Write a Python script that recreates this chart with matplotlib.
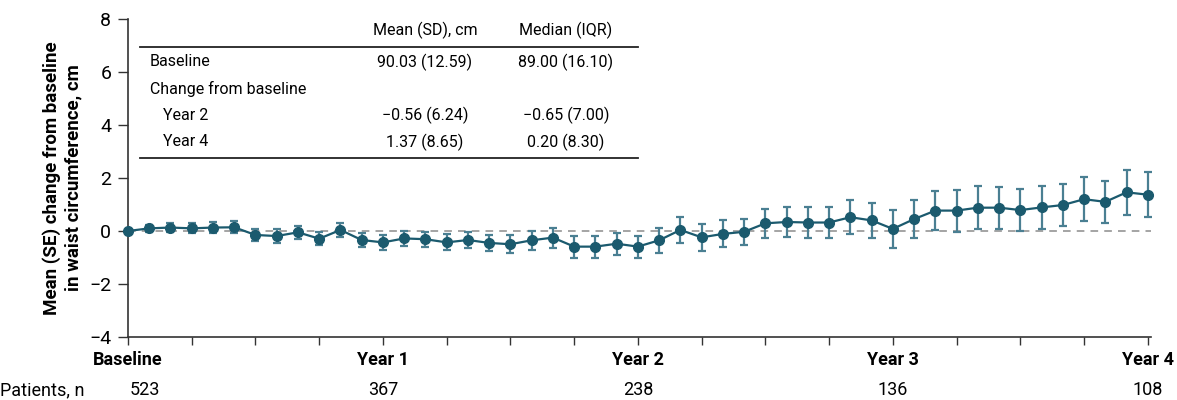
import matplotlib
matplotlib.use("Agg")
import matplotlib.pyplot as plt
from matplotlib.lines import Line2D
from matplotlib.transforms import blended_transform_factory

# ---- data ----
months = list(range(0, 49))
mean_change = [0.00, 0.10, 0.13, 0.10, 0.13, 0.14, -0.15, -0.19, -0.05, -0.29,
               0.04, -0.34, -0.43, -0.28, -0.31, -0.43, -0.34, -0.45, -0.50, -0.35,
               -0.25, -0.59, -0.59, -0.48, -0.59, -0.35, 0.04, -0.24, -0.11, -0.03,
               0.29, 0.34, 0.32, 0.32, 0.52, 0.40, 0.08, 0.45, 0.77, 0.77,
               0.88, 0.88, 0.79, 0.89, 0.98, 1.20, 1.10, 1.46, 1.37]
se_change = [0.00, 0.14, 0.17, 0.19, 0.20, 0.23, 0.24, 0.25, 0.24, 0.24,
             0.26, 0.25, 0.27, 0.28, 0.28, 0.30, 0.31, 0.31, 0.34, 0.35,
             0.38, 0.41, 0.41, 0.42, 0.41, 0.47, 0.48, 0.50, 0.51, 0.49,
             0.54, 0.55, 0.57, 0.60, 0.65, 0.66, 0.72, 0.73, 0.75, 0.79,
             0.81, 0.79, 0.79, 0.81, 0.80, 0.82, 0.80, 0.84, 0.84]
year_ticks = [0, 12, 24, 36, 48]
year_labels = ["Baseline", "Year 1", "Year 2", "Year 3", "Year 4"]
patients_n = ["523", "367", "238", "136", "108"]
y_ticks = [-4, -2, 0, 2, 4, 6, 8]

table_header = ["Mean (SD), cm", "Median (IQR)"]
table_rows = ["Baseline", "Change from baseline", "Year 2", "Year 4"]
table_indent = [False, False, True, True]
table_mean = ["90.03 (12.59)", "", "\u22120.56 (6.24)", "1.37 (8.65)"]
table_median = ["89.00 (16.10)", "", "\u22120.65 (7.00)", "0.20 (8.30)"]

# ---- style ----
W, H = 1177, 400
main_font = ["Roboto", "DejaVu Sans"]
dark = "#1b5a6e"
err_col = "#4a7f92"

plt.rcParams["font.family"] = main_font
fig = plt.figure(figsize=(W / 100, H / 100), dpi=100)
ax = fig.add_axes([128 / W, 1 - 337 / H, (1151 - 128) / W, (337 - 19) / H])

ax.axhline(0, color="#8c8c8c", lw=1.1, ls=(0, (5, 4)), zorder=1)
ax.errorbar(months[1:], mean_change[1:], yerr=se_change[1:], fmt="none",
            ecolor=err_col, elinewidth=1.6, capsize=3, capthick=1.6, zorder=2)
ax.plot(months, mean_change, color=dark, lw=1.6, marker="o", ms=7,
        mec=dark, mfc=dark, zorder=3, clip_on=False)

ax.set_xlim(0, 48.15)
ax.set_ylim(-4, 8)
ax.set_yticks(y_ticks)
ax.set_yticklabels([str(v).replace("-", "\u2212") for v in y_ticks], fontsize=14)
ax.set_xticks(list(range(0, 49, 3)))
ax.set_xticklabels([])
ax.tick_params(axis="x", length=6, width=1, color="#333333")
ax.tick_params(axis="y", length=7, width=1, color="#333333", pad=5)
for s in ["top", "right"]:
    ax.spines[s].set_visible(False)
for s in ["left", "bottom"]:
    ax.spines[s].set_color("#333333")
    ax.spines[s].set_linewidth(1.2)

ax.set_ylabel("Mean (SE) change from baseline\nin waist circumference, cm",
              fontsize=13.5, fontweight="bold", labelpad=5, linespacing=1.2)

tr = blended_transform_factory(ax.transData, ax.transAxes)
for xv, lab in zip(year_ticks, year_labels):
    ax.text(xv, -0.072, lab, transform=tr, ha="center", va="center",
            fontsize=13, fontweight="bold", fontstretch="condensed")
for i, (xv, n) in enumerate(zip(year_ticks, patients_n)):
    ax.text(xv + (0.1 if i == 0 else 0), -0.167, n, transform=tr,
            ha="left" if i == 0 else "center", va="center", fontsize=13)
fig.text(0 / W, 1 - 390 / H, "Patients, n", ha="left", va="center", fontsize=13)

# ---- inset table ----
def fx(px):
    return px / W

def fy(py):
    return 1 - py / H

tfs = 11.5
fig.text(fx(425), fy(30), table_header[0], ha="center", va="center", fontsize=tfs)
fig.text(fx(566), fy(30), table_header[1], ha="center", va="center", fontsize=tfs)
fig.add_artist(Line2D([fx(140), fx(638)], [fy(47), fy(47)], color="#222222", lw=1.3))
fig.add_artist(Line2D([fx(140), fx(638)], [fy(158), fy(158)], color="#222222", lw=1.3))
row_y = [62, 89, 115, 142]
for ry, lab, ind, m, md in zip(row_y, table_rows, table_indent, table_mean, table_median):
    fig.text(fx(163 if ind else 150), fy(ry), lab, ha="left", va="center", fontsize=tfs)
    if m:
        fig.text(fx(425), fy(ry), m, ha="center", va="center", fontsize=tfs)
    if md:
        fig.text(fx(566), fy(ry), md, ha="center", va="center", fontsize=tfs)

fig.savefig("out.png", dpi=100)
